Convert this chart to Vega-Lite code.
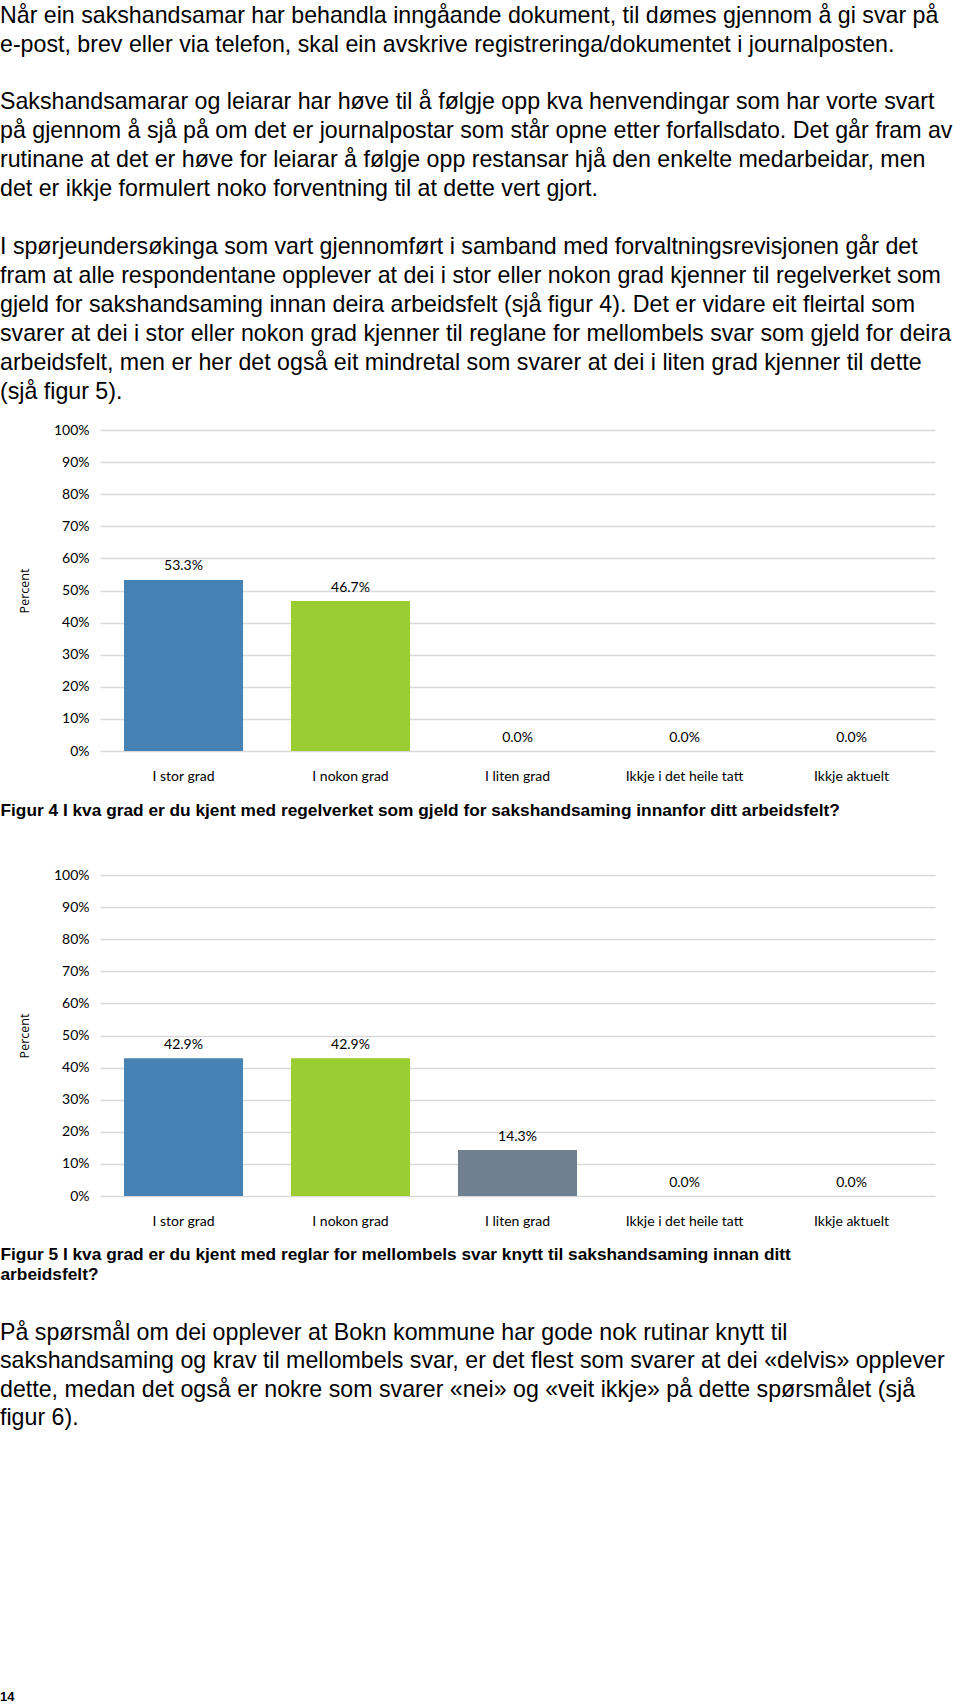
{
  "$schema": "https://vega.github.io/schema/vega-lite/v6.json",
  "padding": {"top": 4, "left": 0, "right": 0, "bottom": 0},
  "background": "white",
  "bounds": "flush",
  "spacing": 124,
  "config": {"view": {"stroke": null}},
  "title": {
    "text": [
      "Når ein sakshandsamar har behandla inngåande dokument, til dømes gjennom å gi svar på",
      "e-post, brev eller via telefon, skal ein avskrive registreringa/dokumentet i journalposten."
    ],
    "subtitle": [
      "Sakshandsamarar og leiarar har høve til å følgje opp kva henvendingar som har vorte svart",
      "på gjennom å sjå på om det er journalpostar som står opne etter forfallsdato. Det går fram av",
      "rutinane at det er høve for leiarar å følgje opp restansar hjå den enkelte medarbeidar, men",
      "det er ikkje formulert noko forventning til at dette vert gjort."
    ],
    "anchor": "start",
    "frame": "group",
    "dx": -100,
    "offset": 34.2,
    "font": "Liberation Sans",
    "fontSize": 23.2,
    "fontWeight": "normal",
    "lineHeight": 29,
    "color": "#000000",
    "subtitleFont": "Liberation Sans",
    "subtitleFontSize": 23.2,
    "subtitleFontWeight": "normal",
    "subtitleLineHeight": 29,
    "subtitleColor": "#000000",
    "subtitlePadding": 33.5
  },
  "datasets": {
    "fig4": [
      {"kategori": "I stor grad", "andel": 0.533},
      {"kategori": "I nokon grad", "andel": 0.467},
      {"kategori": "I liten grad", "andel": 0.0},
      {"kategori": "Ikkje i det heile tatt", "andel": 0.0},
      {"kategori": "Ikkje aktuelt", "andel": 0.0}
    ],
    "fig5": [
      {"kategori": "I stor grad", "andel": 0.429},
      {"kategori": "I nokon grad", "andel": 0.429},
      {"kategori": "I liten grad", "andel": 0.143},
      {"kategori": "Ikkje i det heile tatt", "andel": 0.0},
      {"kategori": "Ikkje aktuelt", "andel": 0.0}
    ]
  },
  "vconcat": [
    {
      "width": 835,
      "height": 321,
      "data": {"name": "fig4"},
      "title": {
        "text": [
          "I spørjeundersøkinga som vart gjennomført i samband med forvaltningsrevisjonen går det",
          "fram at alle respondentane opplever at dei i stor eller nokon grad kjenner til regelverket som",
          "gjeld for sakshandsaming innan deira arbeidsfelt (sjå figur 4). Det er vidare eit fleirtal som",
          "svarer at dei i stor eller nokon grad kjenner til reglane for mellombels svar som gjeld for deira",
          "arbeidsfelt, men er her det også eit mindretal som svarer at dei i liten grad kjenner til dette",
          "(sjå figur 5)."
        ],
        "anchor": "start",
        "frame": "group",
        "dx": -100,
        "offset": 18.6,
        "font": "Liberation Sans",
        "fontSize": 23.2,
        "fontWeight": "normal",
        "lineHeight": 29,
        "color": "#000000"
      },
      "encoding": {
        "x": {
          "field": "kategori", "type": "nominal", "sort": null,
          "scale": {"paddingInner": 0.287, "paddingOuter": 0.1435},
          "axis": {
            "labelAngle": 0, "domain": false, "ticks": false, "labelPadding": 18,
            "labelFont": "Lato", "labelFontSize": 14, "labelColor": "#000000",
            "title": "Figur 4 I kva grad er du kjent med regelverket som gjeld for sakshandsaming innanfor ditt arbeidsfelt?",
            "titleFont": "Liberation Sans", "titleFontSize": 17.3, "titleFontWeight": "bold", "titleColor": "#000000",
            "titleAnchor": "start", "titleAlign": "left", "titleBaseline": "alphabetic",
            "titleX": -100, "titleY": 64
          }
        },
        "y": {
          "field": "andel", "type": "quantitative",
          "scale": {"domain": [0, 1]},
          "axis": {
            "values": [0, 0.1, 0.2, 0.3, 0.4, 0.5, 0.6, 0.7, 0.8, 0.9, 1],
            "format": ".0%", "domain": false, "ticks": false,
            "grid": true, "gridColor": "#d9d9d9", "gridWidth": 1.5,
            "labelFont": "Lato", "labelFontSize": 14, "labelColor": "#000000", "labelPadding": 11,
            "title": "Percent", "titleFont": "Open Sans", "titleFontSize": 12.5, "titleFontWeight": "normal",
            "titleColor": "#000000", "titlePadding": 22
          }
        }
      },
      "layer": [
        {
          "mark": {"type": "bar"},
          "encoding": {
            "color": {
              "field": "kategori", "type": "nominal", "sort": null,
              "scale": {
                "domain": ["I stor grad", "I nokon grad", "I liten grad", "Ikkje i det heile tatt", "Ikkje aktuelt"],
                "range": ["#4682b4", "#9acd32", "#708090", "#d2b48c", "#b0c4de"]
              },
              "legend": null
            }
          }
        },
        {
          "mark": {"type": "text", "baseline": "middle", "dy": -13.5, "font": "Lato", "fontSize": 14, "color": "#000000"},
          "encoding": {"text": {"field": "andel", "type": "quantitative", "format": ".1%"}}
        }
      ]
    },
    {
      "width": 835,
      "height": 321,
      "data": {"name": "fig5"},
      "title": {
        "text": [
          "På spørsmål om dei opplever at Bokn kommune har gode nok rutinar knytt til",
          "sakshandsaming og krav til mellombels svar, er det flest som svarer at dei «delvis» opplever",
          "dette, medan det også er nokre som svarer «nei» og «veit ikkje» på dette spørsmålet (sjå",
          "figur 6)."
        ],
        "subtitle": "14",
        "orient": "bottom",
        "anchor": "start",
        "frame": "group",
        "dx": -100,
        "offset": 39,
        "font": "Liberation Sans",
        "fontSize": 23.2,
        "fontWeight": "normal",
        "lineHeight": 28.5,
        "color": "#000000",
        "subtitleFont": "Liberation Sans",
        "subtitleFontSize": 13,
        "subtitleFontWeight": "bold",
        "subtitleColor": "#000000",
        "subtitlePadding": 260
      },
      "encoding": {
        "x": {
          "field": "kategori", "type": "nominal", "sort": null,
          "scale": {"paddingInner": 0.287, "paddingOuter": 0.1435},
          "axis": {
            "labelAngle": 0, "domain": false, "ticks": false, "labelPadding": 18,
            "labelFont": "Lato", "labelFontSize": 14, "labelColor": "#000000",
            "title": ["Figur 5 I kva grad er du kjent med reglar for mellombels svar knytt til sakshandsaming innan ditt", "arbeidsfelt?"],
            "titleFont": "Liberation Sans", "titleFontSize": 17.3, "titleFontWeight": "bold", "titleColor": "#000000",
            "titleAnchor": "start", "titleAlign": "left", "titleBaseline": "alphabetic", "titleLineHeight": 20.6,
            "titleX": -100, "titleY": 63
          }
        },
        "y": {
          "field": "andel", "type": "quantitative",
          "scale": {"domain": [0, 1]},
          "axis": {
            "values": [0, 0.1, 0.2, 0.3, 0.4, 0.5, 0.6, 0.7, 0.8, 0.9, 1],
            "format": ".0%", "domain": false, "ticks": false,
            "grid": true, "gridColor": "#d9d9d9", "gridWidth": 1.5,
            "labelFont": "Lato", "labelFontSize": 14, "labelColor": "#000000", "labelPadding": 11,
            "title": "Percent", "titleFont": "Open Sans", "titleFontSize": 12.5, "titleFontWeight": "normal",
            "titleColor": "#000000", "titlePadding": 22
          }
        }
      },
      "layer": [
        {
          "mark": {"type": "bar"},
          "encoding": {
            "color": {
              "field": "kategori", "type": "nominal", "sort": null,
              "scale": {
                "domain": ["I stor grad", "I nokon grad", "I liten grad", "Ikkje i det heile tatt", "Ikkje aktuelt"],
                "range": ["#4682b4", "#9acd32", "#708090", "#d2b48c", "#b0c4de"]
              },
              "legend": null
            }
          }
        },
        {
          "mark": {"type": "text", "baseline": "middle", "dy": -13.5, "font": "Lato", "fontSize": 14, "color": "#000000"},
          "encoding": {"text": {"field": "andel", "type": "quantitative", "format": ".1%"}}
        }
      ]
    }
  ]
}
